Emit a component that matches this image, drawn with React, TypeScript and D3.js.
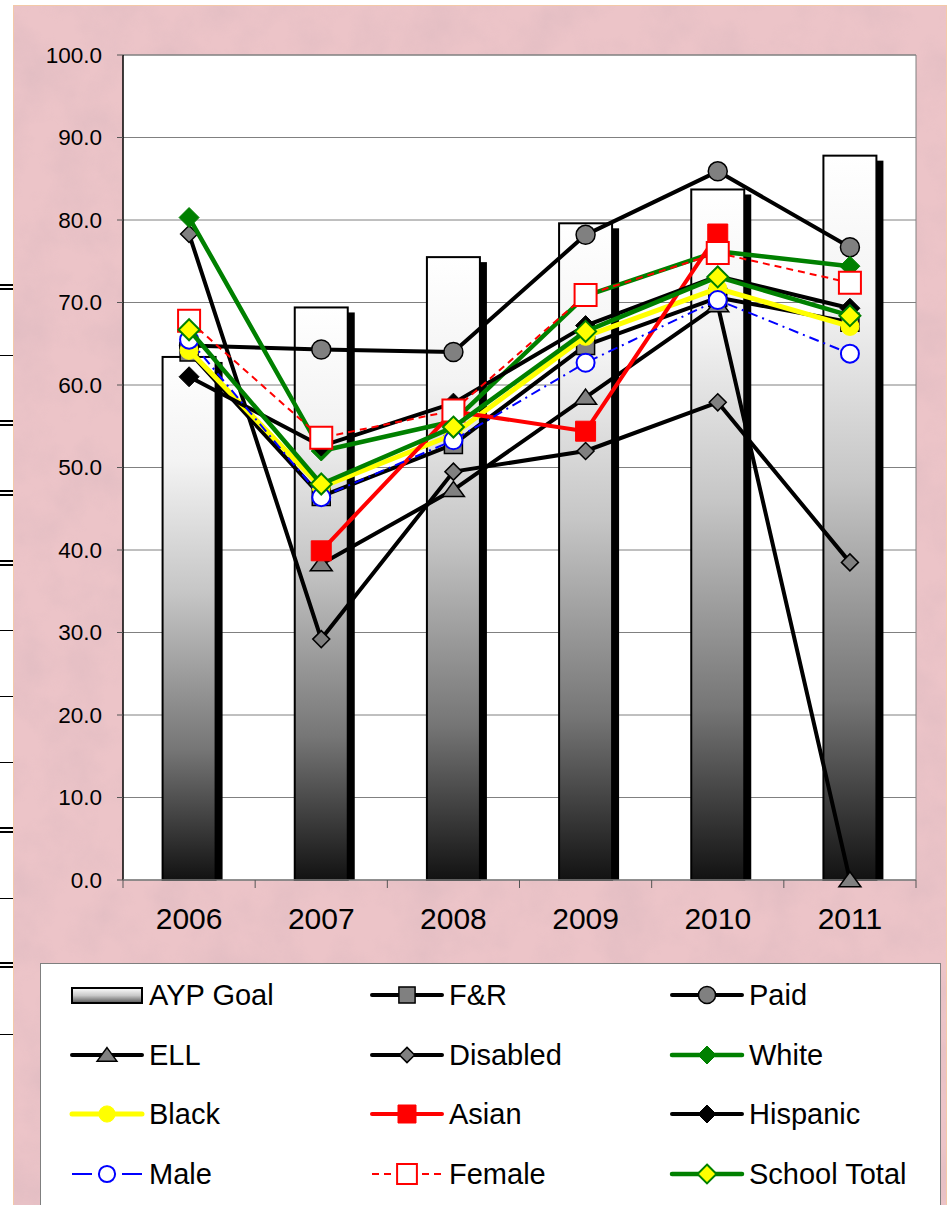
import React from 'react';
import * as d3 from 'd3';

const years = ['2006', '2007', '2008', '2009', '2010', '2011'];
const yTicks = [0, 10, 20, 30, 40, 50, 60, 70, 80, 90, 100];

const aypGoal = [63.4, 69.4, 75.5, 79.6, 83.7, 87.8];
const fr = [64.0, 46.5, 52.8, 64.8, 70.6, 67.6];
const paid = [64.8, 64.3, 64.0, 78.2, 85.9, 76.7];
const ell = [null, 38.3, 47.3, 58.5, 69.7, 0];
const disabled = [78.3, 29.2, 49.5, 52.0, 57.9, 38.5];
const white = [80.3, 52.0, 55.6, 70.8, 76.2, 74.4];
const black = [64.2, 47.6, 54.0, 65.9, 71.7, 67.1];
const asian = [null, 39.9, 56.8, 54.4, 78.3, null];
const hispanic = [61.0, 52.6, 57.8, 67.2, 73.2, 69.3];
const male = [65.5, 46.4, 53.3, 62.7, 70.3, 63.8];
const female = [67.8, 53.6, 56.9, 70.9, 76.0, 72.4];
const schoolTotal = [66.7, 48.0, 54.9, 66.5, 73.1, 68.4];

type Marker = 'square' | 'circle' | 'triangle' | 'diamond';
interface Series {
  name: string;
  values: (number | null)[];
  color: string;
  width: number;
  dash?: string;
  marker: Marker;
  size: number;
  fill: string;
  stroke: string;
  mstroke: number;
}

const series: Series[] = [
  { name: 'F&R', values: fr, color: '#000', width: 4, marker: 'square', size: 9, fill: '#808080', stroke: '#000', mstroke: 1.5 },
  { name: 'Paid', values: paid, color: '#000', width: 4, marker: 'circle', size: 9.5, fill: '#808080', stroke: '#000', mstroke: 1.5 },
  { name: 'ELL', values: ell, color: '#000', width: 4, marker: 'triangle', size: 11, fill: '#808080', stroke: '#000', mstroke: 1.5 },
  { name: 'Disabled', values: disabled, color: '#000', width: 4, marker: 'diamond', size: 8.5, fill: '#808080', stroke: '#000', mstroke: 1.5 },
  { name: 'White', values: white, color: '#008000', width: 4.5, marker: 'diamond', size: 10, fill: '#008000', stroke: '#008000', mstroke: 1 },
  { name: 'Black', values: black, color: '#ffff00', width: 5, marker: 'circle', size: 9, fill: '#ffff00', stroke: '#ffff00', mstroke: 1 },
  { name: 'Asian', values: asian, color: '#ff0000', width: 4, marker: 'square', size: 10, fill: '#ff0000', stroke: '#ff0000', mstroke: 1 },
  { name: 'Hispanic', values: hispanic, color: '#000', width: 4, marker: 'diamond', size: 10, fill: '#000', stroke: '#000', mstroke: 1 },
  { name: 'Male', values: male, color: '#0000ff', width: 2, dash: '10 5 2 5', marker: 'circle', size: 9, fill: '#fff', stroke: '#0000ff', mstroke: 2 },
  { name: 'Female', values: female, color: '#ff0000', width: 2, dash: '7 5', marker: 'square', size: 11, fill: '#fff', stroke: '#ff0000', mstroke: 2 },
  { name: 'School Total', values: schoolTotal, color: '#008000', width: 4.5, marker: 'diamond', size: 10.5, fill: '#ffff00', stroke: '#008000', mstroke: 2 },
];

const legendOrder = ['AYP Goal', 'F&R', 'Paid', 'ELL', 'Disabled', 'White', 'Black', 'Asian', 'Hispanic', 'Male', 'Female', 'School Total'];

const W = 952;
const H = 1205;
const plotL = 123, plotR = 916, plotT = 55, plotB = 880;

const x = d3.scaleBand<string>().domain(years).range([plotL, plotR]).paddingInner(0).paddingOuter(0);
const y = d3.scaleLinear().domain([0, 100]).range([plotB, plotT]);

function markerPath(m: Marker, s: number): string {
  switch (m) {
    case 'square':
      return `M${-s},${-s}H${s}V${s}H${-s}Z`;
    case 'diamond':
      return `M0,${-s}L${s},0L0,${s}L${-s},0Z`;
    case 'triangle':
    default:
      return `M0,${-s * 0.75}L${s},${s * 0.62}L${-s},${s * 0.62}Z`;
  }
}

function MarkerShape({ s, cx, cy }: { s: Series; cx: number; cy: number }) {
  if (s.marker === 'circle') {
    return <circle cx={cx} cy={cy} r={s.size} fill={s.fill} stroke={s.stroke} strokeWidth={s.mstroke} />;
  }
  return (
    <path
      transform={`translate(${cx},${cy})`}
      d={markerPath(s.marker, s.size)}
      fill={s.fill}
      stroke={s.stroke}
      strokeWidth={s.mstroke}
      strokeLinejoin="miter"
    />
  );
}

const leftMarksDouble = [287, 423, 493, 563, 830, 965];
const leftMarksSingle = [355, 630, 696, 762, 898, 1034];

export default function App() {
  const bw = x.bandwidth();
  const barW = 53;
  const cx = (yr: string) => (x(yr) as number) + bw / 2;

  const line = d3
    .line<number | null>()
    .defined((d) => d !== null)
    .x((_, i) => cx(years[i]))
    .y((d) => y(d as number));

  const legCols = [72, 372, 672];
  const legRows = [995, 1055, 1114, 1174];

  return (
    <svg width={W} height={H} style={{ position: 'absolute', left: 0, top: 0 }} xmlns="http://www.w3.org/2000/svg">
      <defs>
        <linearGradient id="barGrad" x1="0" y1="0" x2="0" y2="1">
          <stop offset="0" stopColor="#ffffff" />
          <stop offset="0.2" stopColor="#f3f3f3" />
          <stop offset="0.45" stopColor="#c6c6c6" />
          <stop offset="0.75" stopColor="#767676" />
          <stop offset="1" stopColor="#121212" />
        </linearGradient>
        <linearGradient id="legGrad" x1="0" y1="0" x2="0" y2="1">
          <stop offset="0" stopColor="#ffffff" />
          <stop offset="0.5" stopColor="#c8c8c8" />
          <stop offset="1" stopColor="#555555" />
        </linearGradient>
        <filter id="tex" x="0" y="0" width="100%" height="100%">
          <feTurbulence type="fractalNoise" baseFrequency="0.02" numOctaves="4" seed="3" result="n" />
          <feColorMatrix
            in="n"
            type="matrix"
            values="0 0 0 0 0.70  0 0 0 0 0.48  0 0 0 0 0.52  1.6 0 0 0 -0.6"
          />
        </filter>
      </defs>

      <rect x={0} y={0} width={W} height={H} fill="#ffffff" />
      {/* pink textured background */}
      <rect x={13} y={5} width={934} height={1200} fill="#ecc4c8" />
      <rect x={13} y={5} width={934} height={1200} filter="url(#tex)" opacity={0.6} />
      <rect x={13.5} y={5.5} width={933} height={1205} fill="none" stroke="#f3c9a8" strokeWidth={1} />

      {/* left edge fragments */}
      {leftMarksDouble.map((v) => (
        <g key={`d${v}`}>
          <rect x={0} y={v - 3} width={13} height={2} fill="#000" />
          <rect x={0} y={v + 1} width={13} height={2} fill="#000" />
        </g>
      ))}
      {leftMarksSingle.map((v) => (
        <rect key={`s${v}`} x={0} y={v} width={13} height={1} fill="#000" />
      ))}

      {/* plot area */}
      <rect x={plotL} y={plotT} width={plotR - plotL} height={plotB - plotT} fill="#ffffff" />
      {yTicks.map((t) => (
        <line key={t} x1={plotL} x2={plotR} y1={y(t)} y2={y(t)} stroke="#808080" strokeWidth={1} />
      ))}
      <line x1={plotR} x2={plotR} y1={plotT} y2={plotB} stroke="#808080" strokeWidth={1} />
      <line x1={plotL} x2={plotR} y1={plotT} y2={plotT} stroke="#808080" strokeWidth={1} />

      {/* bars */}
      {years.map((yr, i) => {
        const bx = cx(yr) - barW / 2;
        const by = y(aypGoal[i]);
        return (
          <g key={yr}>
            <rect x={bx + 7} y={by + 5} width={barW} height={plotB - by - 5} fill="#000" />
            <rect x={bx} y={by} width={barW} height={plotB - by} fill="url(#barGrad)" stroke="#000" strokeWidth={2} />
          </g>
        );
      })}

      {/* axes */}
      <line x1={plotL} x2={plotL} y1={plotT} y2={plotB} stroke="#000" strokeWidth={1.5} />
      <line x1={plotL} x2={plotR} y1={plotB} y2={plotB} stroke="#808080" strokeWidth={1.5} />
      {yTicks.map((t) => (
        <g key={`yt${t}`}>
          <line x1={plotL - 6} x2={plotL} y1={y(t)} y2={y(t)} stroke="#555" strokeWidth={1} />
          <text
            x={102}
            y={y(t)}
            dy="0.35em"
            textAnchor="end"
            fontFamily="'Liberation Sans', Arial, sans-serif"
            fontSize={22.5}
            fill="#000"
          >
            {t.toFixed(1)}
          </text>
        </g>
      ))}
      {years.map((yr) => (
        <line key={`xt${yr}`} x1={x(yr) as number} x2={x(yr) as number} y1={plotB} y2={plotB + 8} stroke="#555" />
      ))}
      <line x1={plotR} x2={plotR} y1={plotB} y2={plotB + 8} stroke="#555" />
      {years.map((yr) => (
        <text
          key={`xl${yr}`}
          x={cx(yr)}
          y={918}
          dy="0.35em"
          textAnchor="middle"
          fontFamily="'Liberation Sans', Arial, sans-serif"
          fontSize={30}
          fill="#000"
        >
          {yr}
        </text>
      ))}

      {/* lines */}
      {series.map((s) => (
        <g key={s.name}>
          <path
            d={line(s.values) || ''}
            fill="none"
            stroke={s.color}
            strokeWidth={s.width}
            strokeDasharray={s.dash}
            strokeLinejoin="round"
          />
          {s.values.map((v, i) =>
            v === null ? null : <MarkerShape key={i} s={s} cx={cx(years[i])} cy={y(v)} />
          )}
        </g>
      ))}

      {/* legend */}
      <rect x={40.5} y={963.5} width={900} height={245} fill="#ffffff" stroke="#7f7f7f" strokeWidth={1} />
      {legendOrder.map((name, k) => {
        const col = k % 3;
        const row = Math.floor(k / 3);
        const lx = legCols[col];
        const ly = legRows[row];
        const label = (
          <text
            x={lx + 77}
            y={ly}
            dy="0.36em"
            fontFamily="'Liberation Sans', Arial, sans-serif"
            fontSize={29}
            fill="#000"
          >
            {name}
          </text>
        );
        if (name === 'AYP Goal') {
          return (
            <g key={name}>
              <rect x={lx} y={ly - 7} width={70} height={15} fill="url(#legGrad)" stroke="#000" strokeWidth={2} />
              {label}
            </g>
          );
        }
        const s = series.find((q) => q.name === name) as Series;
        const mcx = lx + 35;
        const ls = { ...s, size: s.size * 0.9 };
        return (
          <g key={name}>
            {s.dash ? (
              <>
                <line x1={lx} x2={lx + 20} y1={ly} y2={ly} stroke={s.color} strokeWidth={s.width} strokeDasharray={s.name === 'Female' ? '7 5' : undefined} />
                <line x1={lx + 50} x2={lx + 70} y1={ly} y2={ly} stroke={s.color} strokeWidth={s.width} strokeDasharray={s.name === 'Female' ? '7 5' : undefined} />
              </>
            ) : (
              <line x1={lx} x2={lx + 70} y1={ly} y2={ly} stroke={s.color} strokeWidth={s.width} strokeLinecap="round" />
            )}
            <MarkerShape s={ls} cx={mcx} cy={ly} />
            {label}
          </g>
        );
      })}
    </svg>
  );
}
